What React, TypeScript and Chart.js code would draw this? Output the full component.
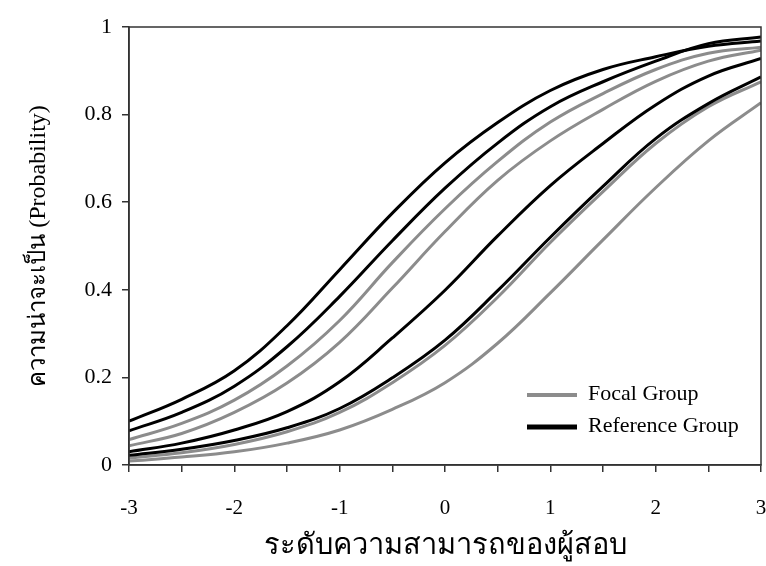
import React, { useEffect, useRef } from "react";
import { Chart, registerables } from "chart.js";

Chart.register(...registerables);

const abilityLevels = [-3, -2.5, -2, -1.5, -1, -0.5, 0, 0.5, 1, 1.5, 2, 2.5, 3];

const reference1 = [0.1, 0.15, 0.215, 0.318, 0.446, 0.575, 0.69, 0.782, 0.855, 0.903, 0.932, 0.956, 0.968];
const reference2 = [0.078, 0.12, 0.18, 0.27, 0.385, 0.512, 0.632, 0.735, 0.818, 0.875, 0.922, 0.962, 0.977];
const reference3 = [0.03, 0.05, 0.08, 0.122, 0.19, 0.29, 0.399, 0.523, 0.638, 0.734, 0.822, 0.888, 0.928];
const reference4 = [0.022, 0.036, 0.056, 0.085, 0.129, 0.199, 0.285, 0.398, 0.52, 0.636, 0.745, 0.825, 0.886];

const focal1 = [0.058, 0.095, 0.148, 0.226, 0.33, 0.462, 0.585, 0.693, 0.783, 0.848, 0.903, 0.94, 0.954];
const focal2 = [0.044, 0.072, 0.12, 0.187, 0.28, 0.404, 0.533, 0.65, 0.74, 0.812, 0.876, 0.922, 0.947];
const focal3 = [0.016, 0.028, 0.047, 0.076, 0.12, 0.188, 0.273, 0.383, 0.508, 0.624, 0.734, 0.818, 0.875];
const focal4 = [0.009, 0.018, 0.03, 0.05, 0.08, 0.127, 0.188, 0.278, 0.393, 0.514, 0.633, 0.74, 0.827];

const yTickValues = [0, 0.2, 0.4, 0.6, 0.8, 1];
const xTickLabels = ["-3", "-2", "-1", "0", "1", "2", "3"];

const FOCAL_LABEL = "Focal Group";
const REFERENCE_LABEL = "Reference Group";
const X_TITLE = "ระดับความสามารถของผู้สอบ";
const Y_TITLE = "ความน่าจะเป็น (Probability)";

const GRAY = "#8c8c8c";
const BLACK = "#000000";
const AXIS = "#333333";
const SERIF = "'Liberation Serif', 'Times New Roman', serif";

const toPoints = (vals: number[]) => abilityLevels.map((x, i) => ({ x, y: vals[i] }));

const boxPlugin = {
  id: "boxPlugin",
  afterDatasetsDraw(chart: any) {
    const { ctx, chartArea } = chart;
    ctx.save();
    ctx.strokeStyle = AXIS;
    ctx.lineWidth = 1.5;
    ctx.strokeRect(chartArea.left, chartArea.top, chartArea.right - chartArea.left, chartArea.bottom - chartArea.top);
    ctx.restore();
  },
};

const legendPlugin = {
  id: "insideLegend",
  afterDraw(chart: any) {
    const { ctx, chartArea } = chart;
    const items = [
      { label: FOCAL_LABEL, color: GRAY, width: 4, dy: 70 },
      { label: REFERENCE_LABEL, color: BLACK, width: 5, dy: 38 },
    ];
    ctx.save();
    ctx.font = `22px ${SERIF}`;
    ctx.textBaseline = "middle";
    ctx.textAlign = "left";
    for (const it of items) {
      const y = chartArea.bottom - it.dy;
      ctx.strokeStyle = it.color;
      ctx.lineWidth = it.width;
      ctx.beginPath();
      ctx.moveTo(527, y);
      ctx.lineTo(577, y);
      ctx.stroke();
      ctx.fillStyle = "#000";
      ctx.fillText(it.label, 588, y - 1);
    }
    ctx.restore();
  },
};

export default function App() {
  const ref = useRef<HTMLCanvasElement | null>(null);

  useEffect(() => {
    if (!ref.current) return;
    const mk = (label: string, data: number[], color: string) => ({
      label,
      data: toPoints(data),
      borderColor: color,
      backgroundColor: color,
      borderWidth: 3,
      pointRadius: 0,
      tension: 0.4,
      fill: false,
    });
    const chart = new Chart(ref.current, {
      type: "line",
      data: {
        datasets: [
          mk(REFERENCE_LABEL, reference1, BLACK),
          mk(REFERENCE_LABEL, reference2, BLACK),
          mk(REFERENCE_LABEL, reference3, BLACK),
          mk(REFERENCE_LABEL, reference4, BLACK),
          mk(FOCAL_LABEL, focal1, GRAY),
          mk(FOCAL_LABEL, focal2, GRAY),
          mk(FOCAL_LABEL, focal3, GRAY),
          mk(FOCAL_LABEL, focal4, GRAY),
        ],
      },
      options: {
        animation: false,
        responsive: false,
        events: [],
        layout: { padding: { top: 27, right: 5, left: 0, bottom: 0 } },
        plugins: { legend: { display: false }, tooltip: { enabled: false } },
        scales: {
          x: {
            type: "linear",
            min: -3,
            max: 3,
            afterFit(scale: any) {
              scale.height = 101;
              scale.paddingLeft = 0;
              scale.paddingRight = 0;
            },
            afterBuildTicks(scale: any) {
              scale.ticks = abilityLevels.map((v) => ({ value: v }));
            },
            grid: { drawOnChartArea: false, drawTicks: true, tickLength: 7, color: AXIS, lineWidth: 1.5 },
            border: { display: true, color: AXIS, width: 1.5 },
            ticks: {
              autoSkip: false,
              maxRotation: 0,
              padding: 24,
              color: "#000",
              font: { family: SERIF, size: 21 },
              callback: (v: any) => {
                const idx = xTickLabels.indexOf(String(v));
                return idx >= 0 ? xTickLabels[idx] : "";
              },
            },
            title: {
              display: true,
              text: X_TITLE,
              color: "#000",
              font: { family: SERIF, size: 29 },
              padding: { top: 0, bottom: 2 },
            },
          },
          y: {
            type: "linear",
            min: 0,
            max: 1,
            afterFit(scale: any) {
              scale.width = 129;
              scale.paddingTop = 0;
              scale.paddingBottom = 0;
            },
            afterBuildTicks(scale: any) {
              scale.ticks = yTickValues.map((v) => ({ value: v }));
            },
            grid: { drawOnChartArea: false, drawTicks: true, tickLength: 7, color: AXIS, lineWidth: 1.5 },
            border: { display: true, color: AXIS, width: 1.5 },
            ticks: {
              padding: 10,
              color: "#000",
              font: { family: SERIF, size: 22 },
              callback: (v: any) => String(Math.round(v * 10) / 10),
            },
            title: {
              display: true,
              text: Y_TITLE,
              color: "#000",
              font: { family: SERIF, size: 24 },
              padding: { top: 24, bottom: 0 },
            },
          },
        },
      },
      plugins: [boxPlugin, legendPlugin],
    } as any);
    return () => chart.destroy();
  }, []);

  return (
    <div style={{ position: "fixed", left: 0, top: 0, width: 766, height: 566, background: "#fff" }}>
      <canvas ref={ref} width={766} height={566} style={{ display: "block" }} />
    </div>
  );
}
